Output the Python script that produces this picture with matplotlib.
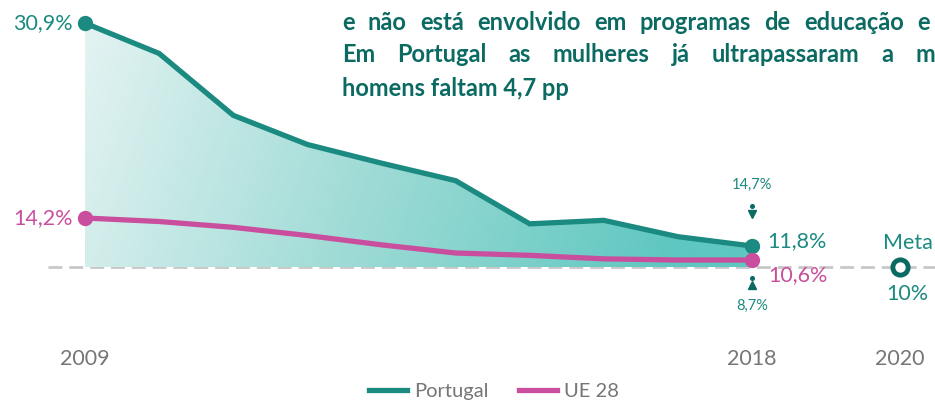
import matplotlib.pyplot as plt
import numpy as np
from matplotlib.colors import LinearSegmentedColormap
from matplotlib.patches import Polygon

plt.rcParams['font.family'] = ['Lato', 'DejaVu Sans']

years = [2009, 2010, 2011, 2012, 2013, 2014, 2015, 2016, 2017, 2018]
portugal = [30.9, 28.3, 23.0, 20.5, 18.9, 17.4, 13.7, 14.0, 12.6, 11.8]
ue28 = [14.2, 13.9, 13.4, 12.7, 11.9, 11.2, 11.0, 10.7, 10.6, 10.6]
meta_year = 2020
meta_value = 10
women_2018 = 8.7
men_2018 = 14.7
tick_years = [2009, 2018, 2020]

line1_words = ['e', 'não', 'está', 'envolvido', 'em', 'programas', 'de', 'educação', 'e']
line2_words = ['Em', 'Portugal', 'as', 'mulheres', 'já', 'ultrapassaram', 'a', 'm']
line3 = 'homens faltam 4,7 pp'

TEAL = '#1b8a80'
DARK_TEAL = '#0b6a62'
PINK = '#c94f9e'
GRAY = '#767676'

fig = plt.figure(figsize=(9.35, 4.01), dpi=100)
ax = fig.add_axes([0, 0, 1, 1])
ax.set_xlim(2007.853, 2020.469)
ax.set_ylim(-1.48, 32.88)
ax.axis('off')

# dashed target line
ax.plot([2008.5, 2020.6], [meta_value, meta_value], color='#c8c8c8',
        linewidth=2, dashes=(5, 2.5), zorder=1)

# gradient fill under the Portugal line
cmap = LinearSegmentedColormap.from_list('g', ['#e3f3f2', '#9fdbd6', '#5ec7c0'])
grad = np.linspace(0, 1, 256).reshape(1, -1)
grad = grad + np.linspace(0, 0.12, 64).reshape(-1, 1)
im = ax.imshow(grad, cmap=cmap, aspect='auto', extent=[years[0], years[-1], meta_value, max(portugal)],
               origin='upper', vmin=0, vmax=1, zorder=2)
verts = list(zip(years, portugal)) + [(years[-1], meta_value), (years[0], meta_value)]
poly = Polygon(verts, closed=True, facecolor='none', edgecolor='none')
ax.add_patch(poly)
im.set_clip_path(poly)

ax.plot(years, portugal, color=TEAL, linewidth=3.8, solid_joinstyle='miter', zorder=3, label='Portugal')
ax.plot(years, ue28, color=PINK, linewidth=3.8, zorder=4, label='UE 28')
ax.plot([years[0], years[-1]], [portugal[0], portugal[-1]], 'o', color=TEAL, markersize=10, zorder=5)
ax.plot([years[0], years[-1]], [ue28[0], ue28[-1]], 'o', color=PINK, markersize=10, zorder=5)

# meta marker
ax.plot([meta_year], [meta_value], 'o', markersize=11, markerfacecolor='white',
        markeredgecolor=DARK_TEAL, markeredgewidth=3.5, zorder=5)

def pct(v):
    return f'{v:.1f}'.replace('.', ',') + '%'

ax.text(years[0] - 0.17, portugal[0], pct(portugal[0]), color=TEAL, fontsize=15.5,
        ha='right', va='center')
ax.text(years[0] - 0.17, ue28[0], pct(ue28[0]), color=PINK, fontsize=15.5,
        ha='right', va='center')
ax.text(years[-1] + 0.2, portugal[-1] + 0.4, pct(portugal[-1]), color=TEAL, fontsize=15.5,
        ha='left', va='center')
ax.text(years[-1] + 0.22, ue28[-1] - 1.3, pct(ue28[-1]), color=PINK, fontsize=15.5,
        ha='left', va='center')
ax.text(meta_year - 0.23, meta_value + 2.1, 'Meta', color=TEAL, fontsize=15.5, ha='left', va='center')
ax.text(meta_year + 0.1, meta_value - 2.3, f'{meta_value}%', color=TEAL, fontsize=15.5,
        ha='center', va='center')

# men / women annotations
ax.text(years[-1], 17.0, pct(men_2018), color=TEAL, fontsize=10.5, ha='center', va='center')
ax.plot([years[-1]], [15.2], 'o', color=DARK_TEAL, markersize=2.6)
ax.plot([years[-1]], [14.55], 'v', color=DARK_TEAL, markersize=6)
ax.plot([years[-1]], [9.1], 'o', color=DARK_TEAL, markersize=2.6)
ax.plot([years[-1]], [8.45], '^', color=DARK_TEAL, markersize=6)
ax.text(years[-1], 6.7, pct(women_2018), color=TEAL, fontsize=10.5, ha='center', va='center')

for y in tick_years:
    ax.text(y, 2.14, str(y), color=GRAY, fontsize=15.5, ha='center', va='center')

# title block, justified word by word (cut by the figure edge, as in the source)
title_color = '#0b6a62'
renderer = fig.canvas.get_renderer()

def justified(words, y_px, x0, x_last, size=17):
    arts = [fig.text(0, 1 - y_px / 401, w, color=title_color, fontsize=size,
                     fontweight='bold', va='center', ha='left') for w in words]
    widths = [a.get_window_extent(renderer).width for a in arts]
    gap = (x_last - x0 - sum(widths[:-1])) / (len(words) - 1)
    x = x0
    for a, wd in zip(arts, widths):
        a.set_x(x / 935)
        x += wd + gap

justified(line1_words, 22, 342, 917)
justified(line2_words, 55, 342, 915)
fig.text(342 / 935, 1 - 89 / 401, line3, color=title_color,
         fontsize=17, fontweight='bold', va='center', ha='left')

leg = ax.legend(loc='center', bbox_to_anchor=(494 / 935, 1 - 391 / 401), ncol=2,
                frameon=False, fontsize=14.5, handlelength=1.9, columnspacing=1.5,
                handletextpad=0.35)
for t in leg.get_texts():
    t.set_color(GRAY)

fig.savefig('out.png', dpi=100)
